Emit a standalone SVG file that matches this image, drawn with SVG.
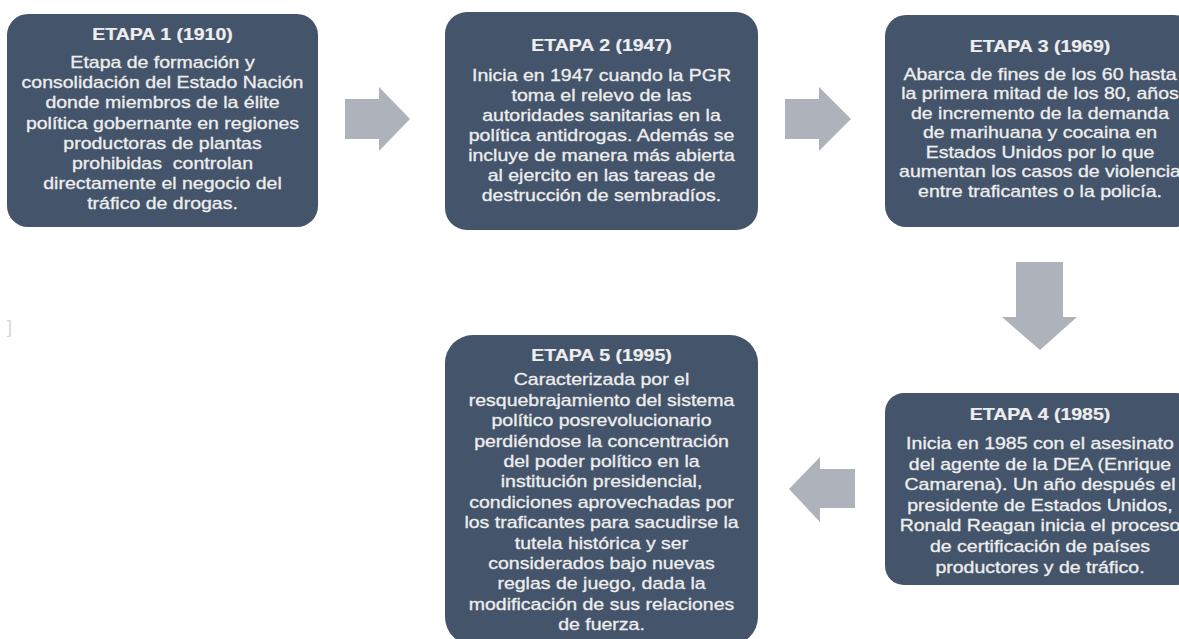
<svg xmlns="http://www.w3.org/2000/svg" width="1179" height="639" viewBox="0 0 1179 639">
<style>
.box{fill:#44546A;}
.arrow{fill:#ADB2BB;}
.t{font-family:"Liberation Sans",Arial,sans-serif;font-size:16px;fill:#EEEEEE;stroke:#EEEEEE;stroke-width:0.3px;text-anchor:middle;}
.h{font-weight:bold;stroke-width:0.2px;}
</style>
<rect width="1179" height="639" fill="#FFFFFF"/>
<g id="connectors">
<polygon class="arrow" points="345,99 379,99 379,87 410,119 379,151 379,139 345,139"/>
<polygon class="arrow" points="785,99 819,99 819,87 851,119 819,151 819,139 785,139"/>
<polygon class="arrow" points="1016,262 1063,262 1063,317 1077,317 1040,350 1002,317 1016,317"/>
<polygon class="arrow" points="855,469 820,469 820,457 789,489 820,522 820,508 855,508"/>
</g>
<g id="etapa1">
<rect class="box" x="7" y="14" width="311" height="213" rx="21"/>
<g transform="translate(162.5,0) scale(1.22,1)">
<text class="t h" x="0" y="40.5">ETAPA 1 (1910)</text>
<text class="t" xml:space="preserve"><tspan x="0" y="68">Etapa de formación y</tspan><tspan x="0" y="88.2">consolidación del Estado Nación</tspan><tspan x="0" y="108.4">donde miembros de la élite</tspan><tspan x="0" y="128.6">política gobernante en regiones</tspan><tspan x="0" y="148.8">productoras de plantas</tspan><tspan x="0" y="169">prohibidas  controlan</tspan><tspan x="0" y="189.2">directamente el negocio del</tspan><tspan x="0" y="209.4">tráfico de drogas.</tspan></text>
</g>
</g>
<g id="etapa2">
<rect class="box" x="445" y="12" width="313" height="218" rx="22"/>
<g transform="translate(601.5,0) scale(1.22,1)">
<text class="t h" x="0" y="51.5">ETAPA 2 (1947)</text>
<text class="t"><tspan x="0" y="80.7">Inicia en 1947 cuando la PGR</tspan><tspan x="0" y="100.7">toma el relevo de las</tspan><tspan x="0" y="120.7">autoridades sanitarias en la</tspan><tspan x="0" y="140.7">política antidrogas. Además se</tspan><tspan x="0" y="160.7">incluye de manera más abierta</tspan><tspan x="0" y="180.7">al ejercito en las tareas de</tspan><tspan x="0" y="200.7">destrucción de sembradíos.</tspan></text>
</g>
</g>
<g id="etapa3">
<rect class="box" x="885" y="15" width="310" height="212" rx="21"/>
<g transform="translate(1040,0) scale(1.22,1)">
<text class="t h" x="0" y="52">ETAPA 3 (1969)</text>
<text class="t"><tspan x="0" y="80">Abarca de fines de los 60 hasta</tspan><tspan x="0" y="99.5">la primera mitad de los 80, años</tspan><tspan x="0" y="119">de incremento de la demanda</tspan><tspan x="0" y="138.5">de marihuana y cocaina en</tspan><tspan x="0" y="158">Estados Unidos por lo que</tspan><tspan x="0" y="177.5">aumentan los casos de violencia</tspan><tspan x="0" y="197">entre traficantes o la policía.</tspan></text>
</g>
</g>
<g id="etapa4">
<rect class="box" x="885" y="393" width="310" height="192" rx="19"/>
<g transform="translate(1040,0) scale(1.22,1)">
<text class="t h" x="0" y="420.5">ETAPA 4 (1985)</text>
<text class="t"><tspan x="0" y="449">Inicia en 1985 con el asesinato</tspan><tspan x="0" y="469.6">del agente de la DEA (Enrique</tspan><tspan x="0" y="490.2">Camarena). Un año después el</tspan><tspan x="0" y="510.8">presidente de Estados Unidos,</tspan><tspan x="0" y="531.4">Ronald Reagan inicia el proceso</tspan><tspan x="0" y="552">de certificación de países</tspan><tspan x="0" y="572.6">productores y de tráfico.</tspan></text>
</g>
</g>
<g id="etapa5">
<rect class="box" x="445" y="335" width="313" height="310" rx="28"/>
<g transform="translate(601.5,0) scale(1.22,1)">
<text class="t h" x="0" y="360.7">ETAPA 5 (1995)</text>
<text class="t"><tspan x="0" y="385.5">Caracterizada por el</tspan><tspan x="0" y="405.9">resquebrajamiento del sistema</tspan><tspan x="0" y="426.3">político posrevolucionario</tspan><tspan x="0" y="446.7">perdiéndose la concentración</tspan><tspan x="0" y="467.1">del poder político en la</tspan><tspan x="0" y="487.5">institución presidencial,</tspan><tspan x="0" y="507.9">condiciones aprovechadas por</tspan><tspan x="0" y="528.3">los traficantes para sacudirse la</tspan><tspan x="0" y="548.7">tutela histórica y ser</tspan><tspan x="0" y="569.1">considerados bajo nuevas</tspan><tspan x="0" y="589.5">reglas de juego, dada la</tspan><tspan x="0" y="609.9">modificación de sus relaciones</tspan><tspan x="0" y="630.3">de fuerza.</tspan></text>
</g>
</g>
<text x="7" y="333" font-family="Liberation Sans, Arial, sans-serif" font-size="18" fill="#D6D6D6">]</text>
</svg>
